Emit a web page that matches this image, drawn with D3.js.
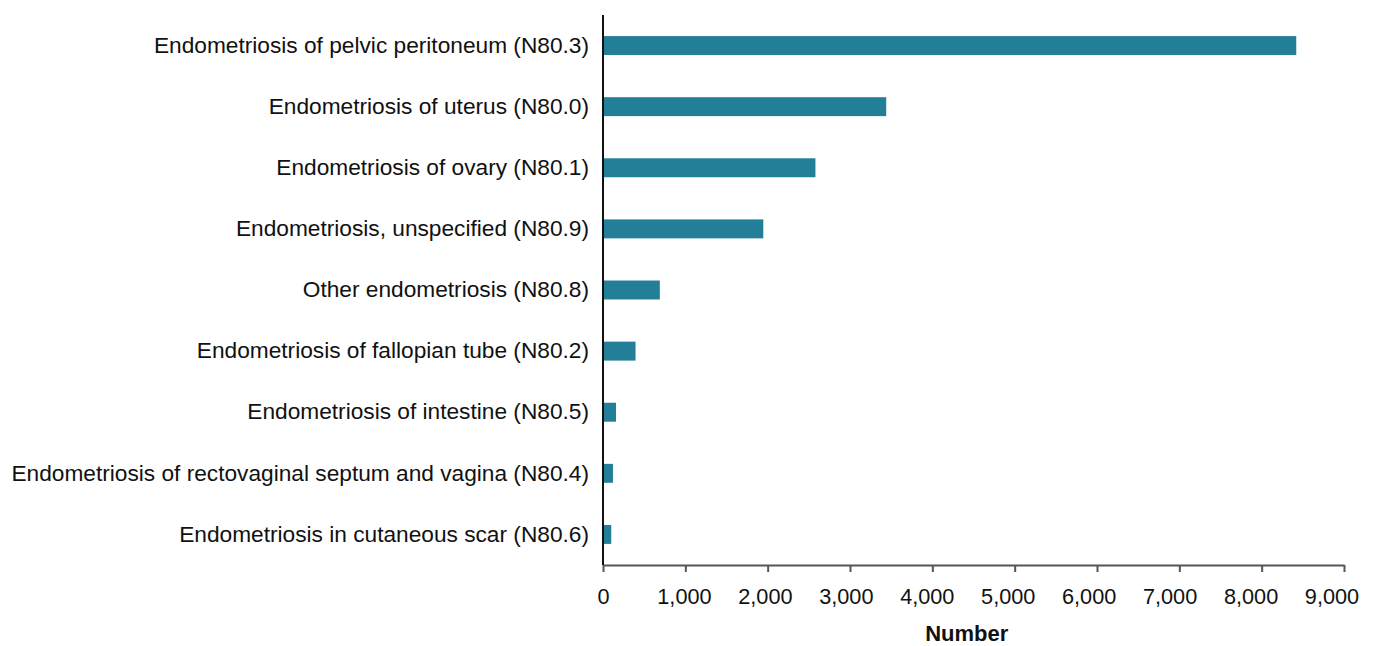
<!DOCTYPE html>
<html><head><meta charset="utf-8">
<script src="https://cdn.jsdelivr.net/npm/d3@7"></script>
<style>
body{margin:0;background:#fff;}
text{font-family:"Liberation Sans",Arial,sans-serif;}
</style></head>
<body><svg id="c" width="1376" height="646"></svg>
<script>
const categories = [
  "Endometriosis of pelvic peritoneum (N80.3)",
  "Endometriosis of uterus (N80.0)",
  "Endometriosis of ovary (N80.1)",
  "Endometriosis, unspecified (N80.9)",
  "Other endometriosis (N80.8)",
  "Endometriosis of fallopian tube (N80.2)",
  "Endometriosis of intestine (N80.5)",
  "Endometriosis of rectovaginal septum and vagina (N80.4)",
  "Endometriosis in cutaneous scar (N80.6)"
];
const values = [8420, 3440, 2580, 1947, 690, 395, 158, 121, 100];
const xTicks = [0,1000,2000,3000,4000,5000,6000,7000,8000,9000];
const xTitle = "Number";

const FONT = "'Liberation Sans',Arial,sans-serif";
const svg = d3.select("#c");
const x = d3.scaleLinear().domain([0,9000]).range([603,1344]);
const xLab = d3.scaleLinear().domain([0,9000]).range([603,1331.5]);
const y = d3.scaleBand().domain(categories).range([15,565]).paddingInner(0.69).paddingOuter(0.345);

svg.selectAll("rect.bar").data(categories).enter().append("rect")
  .attr("class","bar")
  .attr("x", x(0))
  .attr("y", d=>y(d))
  .attr("width", (d,i)=>x(values[i])-x(0))
  .attr("height", y.bandwidth())
  .attr("fill","#237f97");

// x axis line + ticks
const xa = svg.append("g").attr("transform","translate(0,565)")
  .call(d3.axisBottom(x).tickValues(xTicks).tickFormat("").tickSize(7).tickSizeOuter(0));
xa.select(".domain").attr("stroke","#555").attr("stroke-width",2);
xa.selectAll(".tick line").attr("stroke","#555").attr("stroke-width",2);

// x tick labels
const xl = svg.append("g").attr("transform","translate(0,565)")
  .call(d3.axisBottom(xLab).tickValues(xTicks).tickFormat(d3.format(",")).tickSize(0).tickPadding(0));
xl.select(".domain").remove();
xl.selectAll(".tick text").attr("font-size","21.7px").attr("fill","#111").attr("y",38.5).attr("dy",0)
  .style("font-family",FONT);

// y axis
const ya = svg.append("g").attr("transform","translate(603,0)")
  .call(d3.axisLeft(y).tickSize(0).tickPadding(14));
ya.select(".domain").attr("stroke","#111").attr("stroke-width",2).attr("d","M0,15V565");
ya.selectAll(".tick text").attr("font-size","22.7px").attr("fill","#111")
  .style("font-family",FONT);

svg.append("text").attr("x",966.7).attr("y",640.5)
  .attr("text-anchor","middle").attr("font-size","22px").attr("font-weight","bold").attr("fill","#111")
  .style("font-family",FONT)
  .text(xTitle);
</script></body></html>
